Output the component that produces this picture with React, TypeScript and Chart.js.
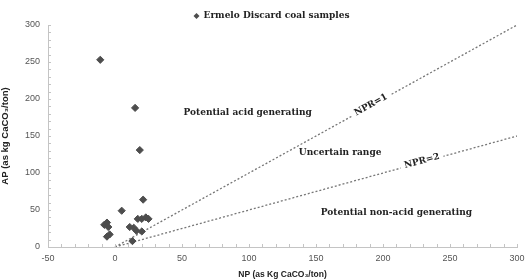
import React, { useEffect, useRef } from "react";
import { Chart, registerables } from "chart.js";

Chart.register(...registerables);

const seriesName = "Ermelo Discard coal samples";
const npValues = [-11, 15, 18.5, 21, 5, -8, -6, -5, -4, -6, 11, 14, 16, 17, 20, 23, 25, 20, 13];
const apValues = [253, 188, 131, 64, 49, 30, 33, 27, 17, 14, 27, 26, 22, 38, 38, 40, 38, 21, 8];

const npr1Line = [
  { x: 0, y: 0 },
  { x: 300, y: 300 },
];
const npr2Line = [
  { x: 0, y: 0 },
  { x: 300, y: 150 },
];

const xTicks = { min: -50, max: 300, step: 50, minor: 10 };
const yTicks = { min: 0, max: 300, step: 50, minor: 10 };

const xTitle = "NP (as Kg CaCO\u2083/ton)";
const yTitle = "AP (as kg CaCO\u2083/ton)";

const labels = [
  { text: "Potential acid generating", x: 99, y: 181, angle: 0, bg: false },
  { text: "Uncertain range", x: 168, y: 127, angle: 0, bg: false },
  { text: "NPR=1", x: 191, y: 192, angle: -29, bg: true },
  { text: "NPR=2", x: 229, y: 116, angle: -15, bg: true },
  { text: "Potential non-acid generating", x: 210, y: 46, angle: 0, bg: false },
];

const SERIF = "'DejaVu Serif', 'Liberation Serif', serif";
const SANS = "'Liberation Sans', 'DejaVu Sans', sans-serif";
const POINT_COLOR = "#4d4d4d";

const overlayPlugin = {
  id: "overlay",
  afterDatasetsDraw(chart: any) {
    const ctx = chart.ctx;
    const xs = chart.scales.x;
    const ys = chart.scales.y;
    const area = chart.chartArea;
    ctx.save();
    // inside tick marks
    ctx.strokeStyle = "#c4c4c4";
    ctx.lineWidth = 1;
    ctx.beginPath();
    for (let v = xTicks.min; v <= xTicks.max; v += xTicks.minor) {
      const px = Math.round(xs.getPixelForValue(v)) + 0.5;
      ctx.moveTo(px, area.bottom);
      ctx.lineTo(px, area.bottom - 3);
    }
    for (let v = yTicks.min; v <= yTicks.max; v += yTicks.minor) {
      const py = Math.round(ys.getPixelForValue(v)) + 0.5;
      ctx.moveTo(area.left, py);
      ctx.lineTo(area.left + 3, py);
    }
    ctx.stroke();
    // region labels
    ctx.font = `bold 9px ${SERIF}`;
    ctx.textAlign = "center";
    ctx.textBaseline = "middle";
    for (const l of labels) {
      const px = xs.getPixelForValue(l.x);
      const py = ys.getPixelForValue(l.y);
      ctx.save();
      ctx.translate(px, py);
      ctx.rotate((l.angle * Math.PI) / 180);
      if (l.bg) {
        const w = ctx.measureText(l.text).width + 8;
        ctx.fillStyle = "#fff";
        ctx.fillRect(-w / 2, -6, w, 12);
      }
      ctx.fillStyle = "#222";
      ctx.fillText(l.text, 0, 0);
      ctx.restore();
    }
    // legend
    ctx.font = `bold 9px ${SERIF}`;
    const tw = ctx.measureText(seriesName).width;
    const total = 6 + 4 + tw;
    const startX = chart.width / 2 + 8 - total / 2;
    const ly = 16;
    ctx.fillStyle = POINT_COLOR;
    ctx.beginPath();
    ctx.moveTo(startX + 3, ly - 3);
    ctx.lineTo(startX + 6, ly);
    ctx.lineTo(startX + 3, ly + 3);
    ctx.lineTo(startX, ly);
    ctx.closePath();
    ctx.fill();
    ctx.fillStyle = "#222";
    ctx.textAlign = "left";
    ctx.fillText(seriesName, startX + 10, ly);
    ctx.restore();
  },
};

export default function App() {
  const ref = useRef<HTMLCanvasElement | null>(null);
  useEffect(() => {
    document.body.style.margin = "0";
    const canvas = ref.current!;
    const chart = new Chart(canvas, {
      type: "scatter",
      data: {
        datasets: [
          {
            label: seriesName,
            data: npValues.map((x, i) => ({ x, y: apValues[i] })),
            backgroundColor: POINT_COLOR,
            borderColor: POINT_COLOR,
            pointStyle: "rectRot",
            pointRadius: 3.6,
            pointHoverRadius: 3.6,
          },
          {
            type: "line",
            label: "NPR=1",
            data: npr1Line,
            borderColor: "#777",
            borderWidth: 1.3,
            borderDash: [2, 2],
            pointRadius: 0,
            showLine: true,
          } as any,
          {
            type: "line",
            label: "NPR=2",
            data: npr2Line,
            borderColor: "#777",
            borderWidth: 1.3,
            borderDash: [2, 2],
            pointRadius: 0,
            showLine: true,
          } as any,
        ],
      },
      options: {
        animation: false,
        responsive: false,
        layout: { padding: { left: 0, right: 10, top: 25, bottom: 0 } },
        plugins: {
          legend: { display: false },
          tooltip: { enabled: false },
        },
        scales: {
          x: {
            type: "linear",
            min: xTicks.min,
            max: xTicks.max,
            ticks: {
              stepSize: xTicks.step,
              color: "#555",
              padding: 6,
              font: { family: SANS, size: 9 },
            },
            grid: { display: false, drawTicks: false },
            border: { display: true, color: "#c4c4c4" },
            title: {
              display: true,
              text: xTitle,
              color: "#222",
              padding: { top: 2, bottom: 0 },
              font: { family: SANS, size: 8.5, weight: "bold" },
            },
            afterFit: (s: any) => {
              s.height = 33;
              s.paddingRight = 0;
              s.paddingLeft = 0;
            },
          },
          y: {
            type: "linear",
            min: yTicks.min,
            max: yTicks.max,
            ticks: {
              stepSize: yTicks.step,
              color: "#555",
              padding: 8,
              font: { family: SANS, size: 9 },
            },
            grid: { display: false, drawTicks: false },
            border: { display: true, color: "#c4c4c4" },
            title: {
              display: true,
              text: yTitle,
              color: "#222",
              padding: { top: 0, bottom: 4 },
              font: { family: SANS, size: 9.5, weight: "bold" },
            },
            afterFit: (s: any) => {
              s.width = 48;
              s.paddingTop = 0;
              s.paddingBottom = 0;
            },
          },
        },
      },
      plugins: [overlayPlugin],
    });
    return () => chart.destroy();
  }, []);
  return (
    <div style={{ width: 527, height: 280 }}>
      <canvas ref={ref} width={527} height={280} style={{ display: "block" }} />
    </div>
  );
}
